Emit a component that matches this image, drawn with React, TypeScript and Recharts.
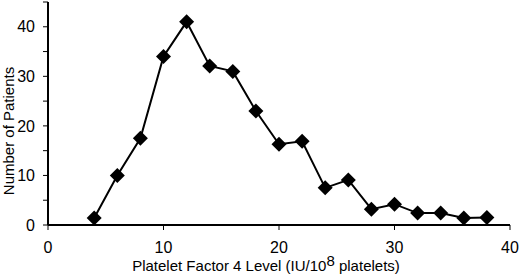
import { LineChart, Line, XAxis, YAxis, Label } from "recharts";

const pf4Level = [4, 6, 8, 10, 12, 14, 16, 18, 20, 22, 24, 26, 28, 30, 32, 34, 36, 38];
const patients = [1.4, 10, 17.5, 34, 41, 32.1, 31, 23, 16.3, 16.9, 7.5, 9.1, 3.2, 4.2, 2.4, 2.4, 1.4, 1.5];

const xTicks = [0, 10, 20, 30, 40];
const yTicks = [0, 5, 10, 15, 20, 25, 30, 35, 40, 45];

const data = pf4Level.map((x, i) => ({ x, y: patients[i] }));

const FONT = "'Liberation Sans', Arial, sans-serif";

function Diamond(props: any) {
  const { cx, cy } = props;
  if (cx == null || cy == null) return null;
  const r = 7.5;
  return (
    <polygon
      points={`${cx},${cy - r} ${cx + r},${cy} ${cx},${cy + r} ${cx - r},${cy}`}
      fill="#000"
    />
  );
}

function XTitle() {
  return (
    <text x={266} y={271} textAnchor="middle" fontFamily={FONT} fontSize={15} fill="#000">
      Platelet Factor 4 Level (IU/10
      <tspan dy={-5}>8</tspan>
      <tspan dy={5}> platelets)</tspan>
    </text>
  );
}

function YTitle() {
  return (
    <text
      x={14}
      y={131}
      textAnchor="middle"
      fontFamily={FONT}
      fontSize={15}
      fill="#000"
      transform="rotate(-90, 14, 131)"
    >
      Number of Patients
    </text>
  );
}

export default function App() {
  return (
    <div style={{ position: "fixed", left: 0, top: 0, width: 520, height: 274, background: "#fff" }}>
      <LineChart
        width={520}
        height={274}
        data={data}
        margin={{ top: 2, right: 10, bottom: 0, left: 0 }}
      >
        <XAxis
          dataKey="x"
          type="number"
          domain={[0, 40]}
          ticks={xTicks}
          height={49}
          tickSize={5}
          tickMargin={12}
          axisLine={{ stroke: "#000", strokeWidth: 2 }}
          tickLine={{ stroke: "#000", strokeWidth: 1 }}
          tick={{ fill: "#000", fontSize: 16, fontFamily: FONT }}
        >
          <Label content={XTitle} />
        </XAxis>
        <YAxis
          type="number"
          domain={[0, 45]}
          ticks={yTicks}
          width={48}
          tickSize={5}
          tickMargin={8}
          interval={0}
          tickFormatter={(v: number) => (v % 10 === 0 && v <= 40 ? String(v) : "")}
          axisLine={{ stroke: "#000", strokeWidth: 2 }}
          tickLine={{ stroke: "#000", strokeWidth: 1 }}
          tick={{ fill: "#000", fontSize: 16, fontFamily: FONT }}
        >
          <Label content={YTitle} />
        </YAxis>
        <Line
          dataKey="y"
          type="linear"
          stroke="#000"
          strokeWidth={2}
          dot={<Diamond />}
          activeDot={false}
          isAnimationActive={false}
        />
      </LineChart>
    </div>
  );
}
